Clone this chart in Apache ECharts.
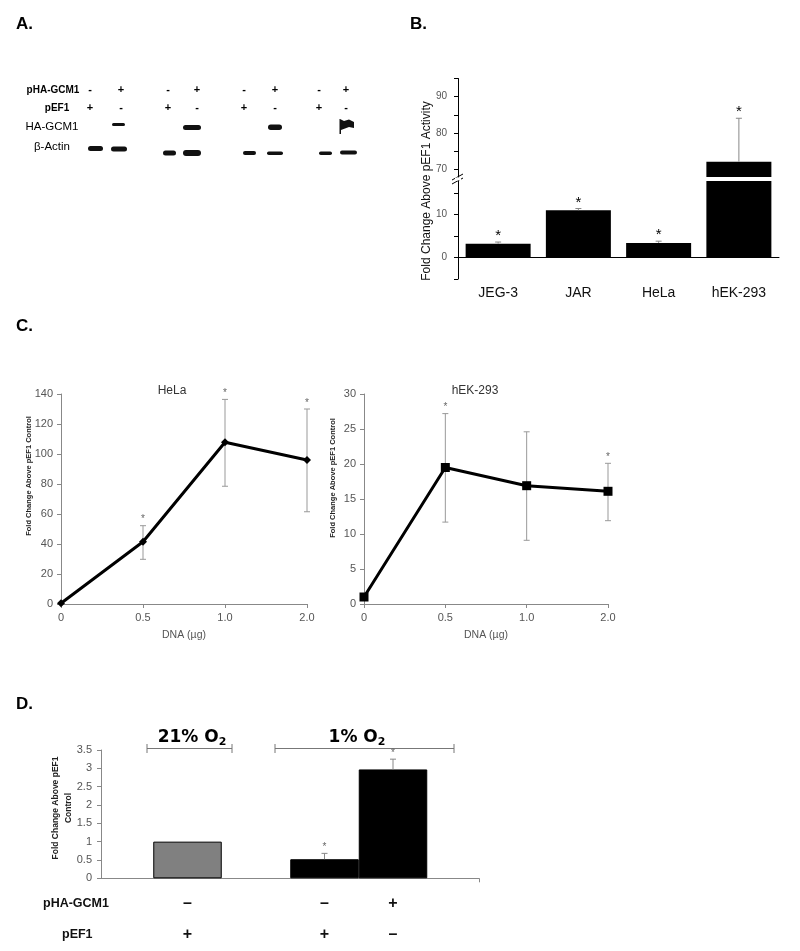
<!DOCTYPE html>
<html><head><meta charset="utf-8">
<script src="https://cdn.jsdelivr.net/npm/echarts@6/dist/echarts.min.js"></script>
<style>html,body{margin:0;padding:0;background:#fff}#c{width:800px;height:951px}</style>
</head><body><div id="c"></div>
<script>
// ---------- DATA ----------
// Panel A (western blot annotations)
const blotRowLabels = ['pHA-GCM1', 'pEF1', 'HA-GCM1', 'β-Actin'];
const blotPHAGCM1 = ['-', '+', '-', '+', '-', '+', '-', '+'];
const blotPEF1 = ['+', '-', '+', '-', '+', '-', '+', '-'];

// Panel B
const bCategories = ['JEG-3', 'JAR', 'HeLa', 'hEK-293'];
const bValues = [3.2, 11.0, 3.4, 72.2];
const bErrTop = [3.6, 11.4, 3.8, 84.1];
const bStars = ['*', '*', '*', '*'];
const bLowTicks = [-5, 0, 5, 10, 15];
const bLowLabels = [0, 10];
const bHighTicks = [70, 75, 80, 85, 90, 95];
const bHighLabels = [70, 80, 90];

// Panel C
const cDoses = ['0', '0.5', '1.0', '2.0'];
const helaValues = [0.5, 41.5, 107.8, 96.0];
const helaErrLow = [null, 29.8, 78.5, 61.5];
const helaErrHigh = [null, 52.2, 136.4, 130.0];
const helaStars = ['', '*', '*', '*'];
const hekValues = [1.0, 19.5, 16.9, 16.1];
const hekErrLow = [null, 11.7, 9.1, 11.9];
const hekErrHigh = [null, 27.2, 24.6, 20.1];
const hekStars = ['', '*', '', '*'];

// Panel D
const dBars = ['21% O2 pEF1', '1% O2 pEF1', '1% O2 pHA-GCM1'];
const dValues = [1.0, 0.52, 2.97];
const dErrTop = [null, 0.68, 3.25];
const dStars = ['', '*', '*'];
const dPHAGCM1 = ['–', '–', '+'];
const dPEF1 = ['+', '+', '–'];
const dColors = ['#808080', '#000000', '#000000'];

// ---------- LAYOUT ----------
const FONT = '"Liberation Sans", Arial, sans-serif';
const laneX = [90, 121, 168, 197, 244, 275, 319, 346];
const dSlots = [0, 2, 3]; // slot of each D bar on its 4-slot axis
const B_LOW_MAX = 17.8, B_HIGH_MIN = 68;

function errRenderer(o) {
  return function (params, api) {
    const x = api.value(0), lo = api.value(1), hi = api.value(2);
    if (isNaN(hi)) return null;
    if (o.filter && !o.filter(hi)) return null;
    const a = api.coord([x, lo]), b = api.coord([x, hi]);
    const st = { stroke: o.color, lineWidth: 1 };
    const ch = [
      { type: 'line', shape: { x1: a[0], y1: a[1], x2: b[0], y2: b[1] }, style: st },
      { type: 'line', shape: { x1: b[0] - o.cap, y1: b[1], x2: b[0] + o.cap, y2: b[1] }, style: st }
    ];
    if (o.lowCap) ch.push({ type: 'line', shape: { x1: a[0] - o.cap, y1: a[1], x2: a[0] + o.cap, y2: a[1] }, style: st });
    const s = o.stars[params.dataIndex];
    if (s) ch.push({ type: 'text', x: b[0], y: b[1] - o.starGap,
      style: { text: s, fill: o.starColor, fontSize: o.starSize, fontFamily: FONT, fontWeight: o.starWeight || 'normal', align: 'center', verticalAlign: 'middle' } });
    return { type: 'group', children: ch };
  };
}

// ---------- DATA → series inputs ----------
const bErrData = bCategories.map((c, i) => [i, bValues[i], bErrTop[i]]);
const helaErrData = [], helaErrStars = [];
cDoses.forEach((d, i) => { if (helaErrHigh[i] != null) { helaErrData.push([i, helaErrLow[i], helaErrHigh[i]]); helaErrStars.push(helaStars[i]); } });
const hekErrData = [], hekErrStars = [];
cDoses.forEach((d, i) => { if (hekErrHigh[i] != null) { hekErrData.push([i, hekErrLow[i], hekErrHigh[i]]); hekErrStars.push(hekStars[i]); } });
const dSlotCats = ['s0', 's1', 's2', 's3'];
const dBarData = dSlotCats.map(() => null);
dBars.forEach((n, i) => { dBarData[dSlots[i]] = { value: dValues[i], name: n, itemStyle: { color: dColors[i] } }; });
const dErrData = [], dErrStars = [];
dBars.forEach((n, i) => { if (dErrTop[i] != null) { dErrData.push([dSlots[i], dValues[i], dErrTop[i]]); dErrStars.push(dStars[i]); } });

// ---------- GRAPHIC (panel A blot, labels, annotations) ----------
const g = [];
function txt(x, y, text, size, opt) {
  opt = opt || {};
  g.push({ type: 'text', x: x, y: y, rotation: opt.rot || 0, silent: true,
    style: { text: text, fill: opt.color || '#000', fontSize: size, fontFamily: opt.family || FONT,
      fontWeight: opt.weight || 'normal', align: opt.align || 'center', verticalAlign: 'middle', rich: opt.rich, lineHeight: opt.lh } });
}
// panel letters
txt(16, 24, 'A.', 17, { weight: 'bold', align: 'left' });
txt(410, 24, 'B.', 17, { weight: 'bold', align: 'left' });
txt(16, 326, 'C.', 17, { weight: 'bold', align: 'left' });
txt(16, 704, 'D.', 17, { weight: 'bold', align: 'left' });
// panel A row labels
txt(53, 90, blotRowLabels[0], 10, { weight: 'bold' });
txt(57, 108, blotRowLabels[1], 10, { weight: 'bold' });
txt(52, 127, blotRowLabels[2], 11.5);
txt(52, 147, blotRowLabels[3], 11.5);
laneX.forEach((x, i) => {
  txt(x, 90, blotPHAGCM1[i], 11, { weight: 'bold' });
  txt(x, 108, blotPEF1[i], 11, { weight: 'bold' });
});
// blot bands
const bands = [
  [112, 123, 13, 3], [183, 125, 18, 5], [268, 124.5, 14, 5.5],
  [88, 146, 15, 5], [111, 146.5, 16, 5], [163, 150.5, 13, 5], [183, 150, 18, 6],
  [243, 151, 13, 4], [267, 151.5, 16, 3.5], [319, 151.5, 13, 3.5], [340, 150.5, 17, 4]
];
bands.forEach(b => g.push({ type: 'rect', silent: true, shape: { x: b[0], y: b[1], width: b[2], height: b[3], r: b[3] / 2 }, style: { fill: '#111' } }));
g.push({ type: 'polygon', silent: true, shape: { points: [[340, 119], [344, 121], [349, 119.5], [354, 122], [354, 128], [349, 127], [345, 128.5], [341, 130], [341, 134], [339.5, 134], [339.5, 119]] }, style: { fill: '#111' } });
// panel B y title & break marks
txt(427, 191, 'Fold Change Above pEF1 Activity', 12, { rot: Math.PI / 2, color: '#111' });
g.push({ type: 'line', silent: true, shape: { x1: 452, y1: 180, x2: 463, y2: 174 }, style: { stroke: '#000', lineWidth: 1 } });
g.push({ type: 'line', silent: true, shape: { x1: 452, y1: 184, x2: 463, y2: 178 }, style: { stroke: '#000', lineWidth: 1 } });
g.push({ type: 'rect', silent: true, shape: { x: 455, y: 177.5, width: 6, height: 3 }, style: { fill: '#fff' } });
// panel C titles and y names
txt(172, 391, 'HeLa', 12, { color: '#333' });
txt(475, 391, 'hEK-293', 12, { color: '#333' });
txt(29, 476, 'Fold Change Above pEF1 Control', 7.5, { rot: Math.PI / 2, weight: 'bold', color: '#222' });
txt(333, 478, 'Fold Change Above pEF1 Control', 7.5, { rot: Math.PI / 2, weight: 'bold', color: '#222' });
// panel D y name
txt(62, 808, 'Fold Change Above pEF1\nControl', 8.5, { rot: Math.PI / 2, weight: 'bold', color: '#222', lh: 13 });
// panel D brackets
function bracket(x1, x2, y) {
  const st = { stroke: '#777', lineWidth: 1 };
  g.push({ type: 'line', silent: true, shape: { x1: x1, y1: y, x2: x2, y2: y }, style: st });
  g.push({ type: 'line', silent: true, shape: { x1: x1, y1: y - 4.5, x2: x1, y2: y + 4.5 }, style: st });
  g.push({ type: 'line', silent: true, shape: { x1: x2, y1: y - 4.5, x2: x2, y2: y + 4.5 }, style: st });
}
bracket(147, 232, 748.5);
bracket(275, 454, 748.5);
const subRich = { n: { fontSize: 17, fontWeight: 'bold', fontFamily: '"DejaVu Sans", sans-serif', fill: '#000' },
  s: { fontSize: 11, fontWeight: 'bold', fontFamily: '"DejaVu Sans", sans-serif', fill: '#000', padding: [9, 0, 0, 0] } };
txt(192, 738, '{n|21% O}{s|2}', 17, { rich: subRich });
txt(357, 738, '{n|1% O}{s|2}', 17, { rich: subRich });
txt(43, 904, 'pHA-GCM1', 12.5, { weight: 'bold', align: 'left', color: '#111' });
txt(62, 935, 'pEF1', 12.5, { weight: 'bold', align: 'left', color: '#111' });

// ---------- AXES helpers ----------
function cY(max, interval) {
  return { type: 'value', min: 0, max: max, interval: interval, splitLine: { show: false },
    axisLine: { show: true, lineStyle: { color: '#888' } },
    axisTick: { show: true, inside: false, length: 4, lineStyle: { color: '#888' } },
    axisLabel: { color: '#555', fontSize: 11, margin: 8, fontFamily: FONT } };
}
function cX(gi) {
  return { type: 'category', gridIndex: gi, data: cDoses, boundaryGap: false,
    axisLine: { show: true, lineStyle: { color: '#888' } },
    axisTick: { show: true, length: 4, lineStyle: { color: '#888' } },
    axisLabel: { color: '#555', fontSize: 11, margin: 8, fontFamily: FONT },
    name: 'DNA (µg)', nameLocation: 'middle', nameGap: 26, nameTextStyle: { color: '#555', fontSize: 10.5, fontFamily: FONT } };
}

const option = {
  animation: false,
  backgroundColor: '#fff',
  textStyle: { fontFamily: FONT },
  grid: [
    { left: 458, right: 21, top: 78.5, height: 98.5, outerBoundsMode: 'none', containLabel: false }, // B upper
    { left: 458, right: 21, top: 181, height: 98, outerBoundsMode: 'none', containLabel: false },    // B lower
    { left: 61, right: 493, top: 394, height: 210, outerBoundsMode: 'none', containLabel: false },   // C HeLa
    { left: 364, right: 192, top: 394, height: 210, outerBoundsMode: 'none', containLabel: false },  // C hEK
    { left: 101, right: 321, top: 750, height: 128.3, outerBoundsMode: 'none', containLabel: false }, // D axes
    { left: 153.25, width: 274, top: 750, height: 128.3, outerBoundsMode: 'none', containLabel: false } // D bars
  ],
  xAxis: [
    { type: 'category', gridIndex: 0, data: bCategories, show: false },
    { type: 'category', gridIndex: 1, data: bCategories,
      axisLine: { show: true, lineStyle: { color: '#000' } }, axisTick: { show: false },
      axisLabel: { color: '#111', fontSize: 14, margin: 7, fontFamily: FONT } },
    cX(2),
    Object.assign(cX(3), { gridIndex: 3 }),
    { type: 'value', gridIndex: 4, min: 0, max: 1, axisLine: { show: true, lineStyle: { color: '#888' } },
      axisTick: { show: true, length: 4, customValues: [1], lineStyle: { color: '#888' } },
      axisLabel: { show: false }, splitLine: { show: false } },
    { type: 'category', gridIndex: 5, data: dSlotCats, axisLine: { show: false }, axisTick: { show: false },
      axisLabel: { margin: 17.7, interval: 0,
        formatter: function (v, idx) {
          const k = dSlots.indexOf(idx);
          if (k < 0) return '';
          return '{a|' + dPHAGCM1[k] + '}\n{b|' + dPEF1[k] + '}';
        },
        rich: { a: { fontSize: 16, fontWeight: 'bold', color: '#111', lineHeight: 16, fontFamily: FONT },
                b: { fontSize: 16, fontWeight: 'bold', color: '#111', lineHeight: 46, fontFamily: FONT } } } }
  ],
  yAxis: [
    { type: 'value', gridIndex: 0, min: B_HIGH_MIN, max: 95, splitLine: { show: false },
      axisLine: { show: true, lineStyle: { color: '#000' } },
      axisTick: { show: true, length: 4, customValues: bHighTicks, lineStyle: { color: '#000' } },
      axisLabel: { customValues: bHighLabels, color: '#555', fontSize: 10, margin: 11, fontFamily: FONT } },
    { type: 'value', gridIndex: 1, min: -5, max: B_LOW_MAX, splitLine: { show: false },
      axisLine: { show: true, lineStyle: { color: '#000' } },
      axisTick: { show: true, length: 4, customValues: bLowTicks, lineStyle: { color: '#000' } },
      axisLabel: { customValues: bLowLabels, color: '#555', fontSize: 10, margin: 11, fontFamily: FONT } },
    Object.assign(cY(140, 20), { gridIndex: 2 }),
    Object.assign(cY(30, 5), { gridIndex: 3 }),
    Object.assign(cY(3.5, 0.5), { gridIndex: 4, axisLabel: { color: '#555', fontSize: 11, margin: 9, fontFamily: FONT } }),
    { type: 'value', gridIndex: 5, min: 0, max: 3.5, show: false, splitLine: { show: false } }
  ],
  series: [
    { type: 'bar', xAxisIndex: 0, yAxisIndex: 0, data: bValues, barWidth: 65, itemStyle: { color: '#000' }, clip: true },
    { type: 'bar', xAxisIndex: 1, yAxisIndex: 1, data: bValues, barWidth: 65, itemStyle: { color: '#000' }, clip: true },
    { type: 'custom', xAxisIndex: 0, yAxisIndex: 0, data: bErrData, encode: { x: 0, y: [1, 2] }, z: 5,
      renderItem: errRenderer({ color: '#888', cap: 3, stars: bStars, starGap: 6, starColor: '#000', starSize: 15, filter: h => h > B_LOW_MAX }) },
    { type: 'custom', xAxisIndex: 1, yAxisIndex: 1, data: bErrData, encode: { x: 0, y: [1, 2] }, z: 5,
      renderItem: errRenderer({ color: '#888', cap: 3, stars: bStars, starGap: 6, starColor: '#000', starSize: 15, filter: h => h <= B_LOW_MAX }) },

    { type: 'custom', xAxisIndex: 2, yAxisIndex: 2, data: helaErrData, encode: { x: 0, y: [1, 2] }, z: 1,
      renderItem: errRenderer({ color: '#999', cap: 3, lowCap: true, stars: helaErrStars, starGap: 6, starColor: '#666', starSize: 10 }) },
    { type: 'line', xAxisIndex: 2, yAxisIndex: 2, data: helaValues, symbol: 'diamond', symbolSize: 8, z: 3,
      lineStyle: { color: '#000', width: 3 }, itemStyle: { color: '#000' } },
    { type: 'custom', xAxisIndex: 3, yAxisIndex: 3, data: hekErrData, encode: { x: 0, y: [1, 2] }, z: 1,
      renderItem: errRenderer({ color: '#999', cap: 3, lowCap: true, stars: hekErrStars, starGap: 6, starColor: '#666', starSize: 10 }) },
    { type: 'line', xAxisIndex: 3, yAxisIndex: 3, data: hekValues, symbol: 'rect', symbolSize: 9, z: 3,
      lineStyle: { color: '#000', width: 3 }, itemStyle: { color: '#000' } },

    { type: 'bar', xAxisIndex: 5, yAxisIndex: 5, data: dBarData, barCategoryGap: '0%',
      itemStyle: { borderColor: '#000', borderWidth: 1 } },
    { type: 'custom', xAxisIndex: 5, yAxisIndex: 5, data: dErrData, encode: { x: 0, y: [1, 2] }, z: 5,
      renderItem: errRenderer({ color: '#888', cap: 3, stars: dErrStars, starGap: 6, starColor: '#666', starSize: 10 }) }
  ],
  graphic: { elements: g }
};

const chart = echarts.init(document.getElementById('c'), null, { renderer: 'canvas' });
chart.setOption(option);
</script>
</body></html>
